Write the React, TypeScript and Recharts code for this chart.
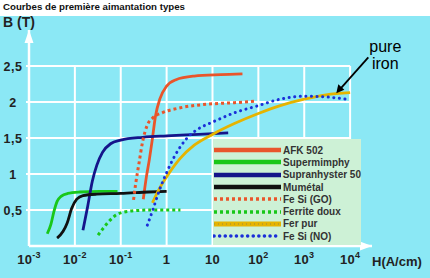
import React from "react";
import { LineChart, Line, XAxis, YAxis, ReferenceLine, ReferenceDot, Legend } from "recharts";

// H in A/cm, B in T
const afk502 = [
  { h: 0.31, b: 0.65 }, { h: 0.36, b: 0.95 }, { h: 0.42, b: 1.2 }, { h: 0.48, b: 1.45 },
  { h: 0.57, b: 1.8 }, { h: 0.72, b: 2.05 }, { h: 1.0, b: 2.22 }, { h: 1.6, b: 2.31 },
  { h: 4, b: 2.36 }, { h: 15, b: 2.38 }, { h: 45, b: 2.39 },
];
const supermimphy = [
  { h: 0.0025, b: 0.17 }, { h: 0.003, b: 0.3 }, { h: 0.0035, b: 0.48 }, { h: 0.0041, b: 0.62 },
  { h: 0.005, b: 0.69 }, { h: 0.007, b: 0.73 }, { h: 0.013, b: 0.75 }, { h: 0.035, b: 0.76 },
  { h: 0.085, b: 0.76 },
];
const supranhyster = [
  { h: 0.015, b: 0.22 }, { h: 0.019, b: 0.55 }, { h: 0.024, b: 0.9 }, { h: 0.03, b: 1.12 },
  { h: 0.04, b: 1.3 }, { h: 0.06, b: 1.42 }, { h: 0.1, b: 1.47 }, { h: 0.3, b: 1.51 },
  { h: 1, b: 1.53 }, { h: 5, b: 1.55 }, { h: 22, b: 1.57 },
];
const mumetal = [
  { h: 0.0041, b: 0.11 }, { h: 0.0055, b: 0.2 }, { h: 0.0068, b: 0.32 }, { h: 0.0085, b: 0.52 },
  { h: 0.011, b: 0.65 }, { h: 0.015, b: 0.7 }, { h: 0.03, b: 0.72 }, { h: 0.1, b: 0.73 },
  { h: 0.4, b: 0.75 }, { h: 1, b: 0.76 },
];
const feSiGO = [
  { h: 0.19, b: 0.64 }, { h: 0.21, b: 0.85 }, { h: 0.25, b: 1.15 }, { h: 0.3, b: 1.45 },
  { h: 0.38, b: 1.68 }, { h: 0.5, b: 1.78 }, { h: 0.8, b: 1.85 }, { h: 2, b: 1.92 },
  { h: 8, b: 1.97 }, { h: 30, b: 1.99 }, { h: 85, b: 2.01 },
];
const ferriteDoux = [
  { h: 0.032, b: 0.15 }, { h: 0.042, b: 0.25 }, { h: 0.055, b: 0.34 }, { h: 0.075, b: 0.42 },
  { h: 0.1, b: 0.46 }, { h: 0.2, b: 0.49 }, { h: 0.5, b: 0.5 }, { h: 2, b: 0.5 },
];
const ferPur = [
  { h: 0.49, b: 0.6 }, { h: 0.7, b: 0.8 }, { h: 1, b: 0.96 }, { h: 2, b: 1.22 },
  { h: 4, b: 1.4 }, { h: 10, b: 1.55 }, { h: 30, b: 1.7 }, { h: 100, b: 1.84 },
  { h: 300, b: 1.95 }, { h: 1000, b: 2.04 }, { h: 3000, b: 2.1 }, { h: 10000, b: 2.13 },
];
const feSiNO = [
  { h: 0.38, b: 0.29 }, { h: 0.5, b: 0.5 }, { h: 0.7, b: 0.78 }, { h: 1, b: 1.02 },
  { h: 1.5, b: 1.25 }, { h: 2.8, b: 1.5 }, { h: 5, b: 1.63 }, { h: 10, b: 1.72 },
  { h: 30, b: 1.85 }, { h: 100, b: 1.95 }, { h: 300, b: 2.04 }, { h: 1000, b: 2.08 },
  { h: 3000, b: 2.07 }, { h: 10000, b: 2.03 },
];

const xTicks = [0.001, 0.01, 0.1, 1, 10, 100, 1000, 10000];
const yTicks = [0.5, 1, 1.5, 2, 2.5];

const RED = "#E9552B";
const GREEN = "#19C719";
const NAVY = "#15158A";
const GOLD = "#E6B400";
const BLUE = "#1B2FD8";

const series = [
  { name: "AFK 502", data: afk502, color: RED, dash: undefined, cap: "butt" },
  { name: "Supermimphy", data: supermimphy, color: GREEN, dash: undefined, cap: "butt" },
  { name: "Supranhyster 50", data: supranhyster, color: NAVY, dash: undefined, cap: "butt" },
  { name: "Mumétal", data: mumetal, color: "#111111", dash: undefined, cap: "butt" },
  { name: "Fe Si (GO)", data: feSiGO, color: RED, dash: "3 3", cap: "butt" },
  { name: "Ferrite doux", data: ferriteDoux, color: GREEN, dash: "3 3", cap: "butt" },
  { name: "Fer pur", data: ferPur, color: GOLD, dash: undefined, cap: "butt" },
  { name: "Fe Si (NO)", data: feSiNO, color: BLUE, dash: "0.1 5.5", cap: "round" },
];

const FONT = "'Liberation Sans', Arial, sans-serif";
const INK = "#222";

function XTick({ x, y, payload }: any) {
  const exp = Math.round(Math.log10(payload.value));
  return (
    <text x={x} y={y + 18} textAnchor="middle" fontSize={13} fontWeight="bold" fill={INK} fontFamily={FONT} letterSpacing={0.3}>
      {exp === 0 ? "1" : exp === 1 ? "10" : (
        <>
          10
          <tspan dy={-6} fontSize={9}>{exp}</tspan>
        </>
      )}
    </text>
  );
}

function YTick({ x, y, payload }: any) {
  return (
    <text x={x - 13} y={y + 4.5} textAnchor="middle" fontSize={12.5} fontWeight="bold" fill={INK} fontFamily={FONT} letterSpacing={0.5}>
      {String(payload.value).replace(".", ",")}
    </text>
  );
}

function LegendBox() {
  return (
    <div style={{ width: 148, height: 106, background: "#CDF1D6", paddingTop: 5, boxSizing: "border-box" }}>
      {series.map((s) => (
        <div key={s.name} style={{ display: "flex", alignItems: "center", height: 12.3 }}>
          <svg width={69} height={8} style={{ display: "block" }}>
            <line
              x1={1} y1={4} x2={68} y2={4}
              stroke={s.color}
              strokeWidth={s.name === "Fer pur" ? 5 : s.dash ? 3.5 : 4.5}
              strokeDasharray={s.dash}
              strokeLinecap={s.cap as any}
            />
            {s.name === "Fer pur" && (
              <line x1={1} y1={4} x2={68} y2={4} stroke="#9a8a40" strokeWidth={1} strokeDasharray="1 3" />
            )}
          </svg>
          <span style={{ fontFamily: FONT, fontWeight: "bold", fontSize: 10, color: "#333", marginLeft: 1, whiteSpace: "nowrap" }}>
            {s.name}
          </span>
        </div>
      ))}
    </div>
  );
}

export default function App() {
  return (
    <div style={{ position: "absolute", left: 0, top: 0, width: 430, height: 278, background: "#fff", overflow: "hidden" }}>
      <div style={{ position: "absolute", left: 0, top: 16, width: 430, height: 262, background: "#8BE8F5" }} />
      <div style={{ position: "absolute", left: 3, top: 1, fontFamily: FONT, fontWeight: "bold", fontSize: 9.7, color: "#111" }}>
        Courbes de première aimantation types
      </div>
      <div style={{ position: "absolute" }}>
        <LineChart width={430} height={278} margin={{ top: 30, right: 58, bottom: 0, left: 0 }}>
          <XAxis
            dataKey="h"
            type="number"
            scale="log"
            domain={[0.001, 30000]}
            ticks={xTicks}
            allowDataOverflow
            height={32}
            tickSize={0}
            tickMargin={0}
            tickLine={false}
            axisLine={{ stroke: "#fff", strokeWidth: 2.5 }}
            tick={<XTick />}
          />
          <YAxis
            type="number"
            domain={[0, 3]}
            ticks={yTicks}
            allowDataOverflow
            width={29}
            tickSize={3}
            tickMargin={0}
            tickLine={{ stroke: "#fff", strokeWidth: 2 }}
            axisLine={{ stroke: "#fff", strokeWidth: 2.5 }}
            tick={<YTick />}
          />
          {xTicks.slice(1).map((t) => (
            <ReferenceLine key={"v" + t} segment={[{ x: t, y: 0 }, { x: t, y: 2.5 }]} stroke="#fff" strokeWidth={2} />
          ))}
          {yTicks.map((t) => (
            <ReferenceLine key={"h" + t} segment={[{ x: 0.001, y: t }, { x: 10000, y: t }]} stroke="#fff" strokeWidth={2} />
          ))}
          {series.map((s) => (
            <Line
              key={s.name}
              data={s.data}
              dataKey="b"
              name={s.name}
              type="monotone"
              stroke={s.color}
              strokeWidth={s.dash ? 3 : 2.8}
              strokeDasharray={s.dash}
              strokeLinecap={s.cap as any}
              dot={false}
              activeDot={false}
              isAnimationActive={false}
            />
          ))}
          <ReferenceDot
            x={30000}
            y={0}
            ifOverflow="visible"
            shape={(p: any) => (
              <polygon points={`${p.cx},${p.cy} ${p.cx - 12},${p.cy - 4.5} ${p.cx - 12},${p.cy + 4.5}`} fill="#fff" />
            )}
          />
          <ReferenceDot
            x={0.001}
            y={3}
            ifOverflow="visible"
            shape={(p: any) => (
              <polygon points={`${p.cx},${p.cy} ${p.cx - 4.5},${p.cy + 13} ${p.cx + 4.5},${p.cy + 13}`} fill="#fff" />
            )}
          />
          <ReferenceDot
            x={5000}
            y={2.12}
            ifOverflow="visible"
            shape={(p: any) => (
              <g>
                <line x1={p.cx + 32} y1={p.cy - 36} x2={p.cx + 4} y2={p.cy - 4.5} stroke="#000" strokeWidth={1.8} />
                <polygon points={`${p.cx},${p.cy} ${p.cx + 2},${p.cy - 9} ${p.cx + 8},${p.cy - 3.5}`} fill="#000" />
                <text x={p.cx + 49} y={p.cy - 41} textAnchor="middle" fontSize={16} fontFamily={FONT} fill="#000">pure</text>
                <text x={p.cx + 49} y={p.cy - 24} textAnchor="middle" fontSize={16} fontFamily={FONT} fill="#000">iron</text>
              </g>
            )}
          />
          <Legend
            layout="vertical"
            align="center"
            verticalAlign="middle"
            wrapperStyle={{ left: 213, top: 139, width: 148, height: 106 }}
            content={() => <LegendBox />}
          />
        </LineChart>
      </div>
      <div style={{ position: "absolute", left: 3, top: 14, fontFamily: FONT, fontWeight: "bold", fontSize: 14, color: INK }}>
        B (T)
      </div>
      <div style={{ position: "absolute", left: 372, top: 254, fontFamily: FONT, fontWeight: "bold", fontSize: 13, color: INK }}>
        H(A/cm)
      </div>
    </div>
  );
}
